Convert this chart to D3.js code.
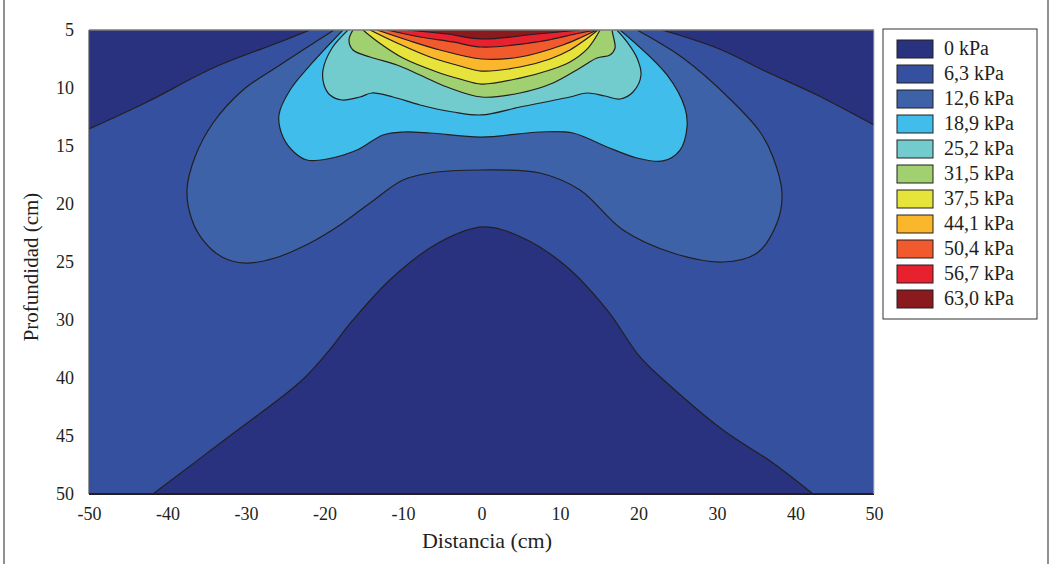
<!DOCTYPE html>
<html>
<head>
<meta charset="utf-8">
<script src="https://cdn.jsdelivr.net/npm/d3@7"></script>
<style>
	body { margin: 0; background: #fff; }
	svg { display: block; font-family: "Liberation Serif", "Times New Roman", serif; }
</style>
</head>
<body>
<svg id="chart" width="1051" height="564"></svg>
<script>
	const levelLabels = [ '0 kPa', '6,3 kPa', '12,6 kPa', '18,9 kPa', '25,2 kPa', '31,5 kPa',
		'37,5 kPa', '44,1 kPa', '50,4 kPa', '56,7 kPa', '63,0 kPa' ];
	const levelColors = [ '#29327f', '#34509e', '#3d62a8', '#41bdec', '#72cbcc', '#a0d06f',
		'#e6e43a', '#fbb72b', '#f05a2c', '#e8212f', '#8b1a1f' ];
	const xTicks = [ -50, -40, -30, -20, -10, 0, 10, 20, 30, 40, 50 ];
	const yTickLabels = [ '5', '10', '15', '20', '25', '30', '40', '45', '50' ];

	// contour lines as [distancia, profundidad]
	const line0Left = [ [ -50, 14.6 ], [ -42.6, 11.98 ], [ -34.2, 8.69 ], [ -25.67, 6.16 ], [ -21.85, 5 ] ];
	const line0Right = [ [ 22.99, 5 ], [ 30.0, 6.75 ], [ 36.37, 9.07 ], [ 42.74, 11.3 ], [ 50, 14.21 ] ];
	const line0Dome = [ [ -41.85, 50 ], [ -32.42, 44.57 ], [ -23.12, 39.14 ], [ -19.68, 36.32 ], [ -16.37, 33.12 ],
		[ -11.27, 28.95 ], [ -5.29, 25.56 ], [ 0.19, 24.1 ], [ 5.29, 25.17 ], [ 10.89, 27.98 ], [ 15.99, 32.15 ],
		[ 20.19, 36.71 ], [ 23.63, 39.23 ], [ 30.76, 43.79 ], [ 37.13, 46.99 ], [ 42.23, 50 ] ];
	const line126 = [ [ -18.79, 5 ], [ -25.67, 8.39 ], [ -30.38, 10.82 ], [ -34.2, 14.02 ], [ -36.5, 17.32 ],
		[ -37.52, 20.52 ], [ -36.88, 23.43 ], [ -35.48, 25.37 ], [ -33.06, 27.01 ], [ -30.13, 27.6 ],
		[ -26.31, 27.11 ], [ -21.85, 25.66 ], [ -18.03, 23.91 ], [ -14.2, 21.78 ], [ -10.0, 19.55 ],
		[ -6.56, 18.87 ], [ 0, 18.58 ], [ 7.45, 18.87 ], [ 12.55, 20.52 ], [ 18.03, 24.4 ], [ 24.39, 26.63 ],
		[ 30.76, 27.5 ], [ 35.1, 26.63 ], [ 37.64, 23.72 ], [ 38.28, 20.81 ], [ 37.13, 17.32 ], [ 35.48, 14.89 ],
		[ 32.04, 11.98 ], [ 25.67, 7.72 ], [ 19.81, 5 ] ];
	const line189 = [ [ -17.64, 5 ], [ -21.46, 8.1 ], [ -24.39, 10.82 ], [ -25.8, 13.24 ], [ -25.29, 15.38 ],
		[ -23.76, 16.93 ], [ -22.23, 17.61 ], [ -19.68, 17.51 ], [ -15.86, 16.64 ], [ -12.55, 15.18 ],
		[ -10.0, 14.89 ], [ -6.56, 14.99 ], [ 0, 15.38 ], [ 7.45, 14.89 ], [ 11.66, 14.99 ], [ 15.99, 16.35 ],
		[ 19.81, 17.41 ], [ 23.12, 17.7 ], [ 25.29, 16.64 ], [ 26.18, 14.41 ], [ 25.92, 12.56 ], [ 23.63, 9.36 ],
		[ 17.64, 5 ] ];
	const line252 = [ [ -17.01, 5 ], [ -19.04, 6.75 ], [ -20.19, 8.88 ], [ -20.06, 10.33 ], [ -19.3, 11.3 ],
		[ -17.77, 11.79 ], [ -15.48, 11.5 ], [ -13.95, 11.11 ], [ -11.27, 11.5 ], [ -7.83, 12.27 ], [ -3.63, 12.95 ],
		[ 0, 13.24 ], [ 4.9, 12.47 ], [ 11.27, 11.5 ], [ 13.44, 11.11 ], [ 15.73, 11.4 ], [ 17.64, 11.69 ],
		[ 19.3, 11.01 ], [ 20.32, 9.36 ], [ 19.81, 7.72 ], [ 18.54, 6.16 ], [ 17.26, 5 ] ];
	const line315 = [ [ -16.37, 5 ], [ -16.88, 5.97 ], [ -16.37, 6.94 ], [ -14.2, 7.62 ], [ -10.76, 8.39 ],
		[ -7.83, 9.36 ], [ -4.39, 10.53 ], [ 0, 11.5 ], [ 4.9, 11.11 ], [ 9.11, 10.14 ], [ 12.55, 8.69 ],
		[ 14.71, 7.72 ], [ 16.37, 7.42 ], [ 17.01, 6.75 ], [ 16.75, 5.48 ], [ 16.62, 5 ] ];
	const line375 = [ [ -15.1, 5 ], [ -13.18, 6.16 ], [ -10.0, 7.72 ], [ -5.67, 9.07 ], [ -2.74, 9.75 ], [ 0, 10.24 ],
		[ 4.9, 9.66 ], [ 8.73, 8.88 ], [ 11.27, 8.1 ], [ 13.57, 6.75 ], [ 15.1, 5 ] ];
	const line441 = [ [ -14.2, 5 ], [ -10.76, 6.26 ], [ -6.56, 7.62 ], [ -2.74, 8.49 ], [ 0, 8.98 ], [ 4.9, 8.59 ],
		[ 8.73, 7.81 ], [ 11.27, 6.94 ], [ 13.18, 5.97 ], [ 14.84, 5 ] ];
	const line504 = [ [ -13.31, 5 ], [ -9.49, 5.97 ], [ -5.29, 6.94 ], [ 0, 7.81 ], [ 4.9, 7.62 ], [ 10.38, 6.45 ],
		[ 12.8, 5.68 ], [ 14.71, 5 ] ];
	const line567 = [ [ -12.04, 5 ], [ -7.83, 5.68 ], [ -3.63, 6.16 ], [ 0, 6.65 ], [ 7.07, 6.16 ], [ 12.55, 5.29 ],
		[ 14.71, 5 ] ];
	const line630 = [ [ -9.49, 5 ], [ -4.39, 5.39 ], [ 0, 5.87 ], [ 7.07, 5.39 ], [ 12.55, 5 ] ];

	let svg = d3.select( '#chart' ),
		x = d3.scaleLinear().domain( [ -50, 50 ] ).range( [ 89, 874 ] ),
		y = d3.scaleLinear().domain( [ 5, 50 ] ).range( [ 30, 494 ] ),
		line = d3.line().x( d => x( d[ 0 ] ) ).y( d => y( d[ 1 ] ) ).curve( d3.curveCatmullRom.alpha( 0.5 ) );

	// outer frame
	svg.append( 'rect' )
		.attr( 'x', 4 ).attr( 'y', -3 ).attr( 'width', 1044 ).attr( 'height', 570 )
		.style( 'fill', 'none' ).style( 'stroke', '#6d6d6d' ).style( 'stroke-width', 1.5 );

	svg.append( 'clipPath' ).attr( 'id', 'plotClip' )
		.append( 'rect' )
		.attr( 'x', x( -50 ) ).attr( 'y', y( 5 ) )
		.attr( 'width', x( 50 ) - x( -50 ) ).attr( 'height', y( 50 ) - y( 5 ) );

	let plot = svg.append( 'g' ).attr( 'clip-path', 'url(#plotClip)' );

	plot.append( 'rect' )
		.attr( 'x', x( -50 ) ).attr( 'y', y( 5 ) )
		.attr( 'width', x( 50 ) - x( -50 ) ).attr( 'height', y( 50 ) - y( 5 ) )
		.style( 'fill', levelColors[ 1 ] );

	// filled zones, lowest first
	let zones = [
		{ pts: line0Left, level: 0, extra: 'L' + x( -50 ) + ',' + y( 5 ) },
		{ pts: line0Right, level: 0, extra: 'L' + x( 50 ) + ',' + y( 5 ) },
		{ pts: line0Dome, level: 0, extra: '' },
		{ pts: line126, level: 2, extra: '' },
		{ pts: line189, level: 3, extra: '' },
		{ pts: line252, level: 4, extra: '' },
		{ pts: line315, level: 5, extra: '' },
		{ pts: line375, level: 6, extra: '' },
		{ pts: line441, level: 7, extra: '' },
		{ pts: line504, level: 8, extra: '' },
		{ pts: line567, level: 9, extra: '' },
		{ pts: line630, level: 10, extra: '' }
	];

	plot.selectAll( 'path.zone' ).data( zones )
		.enter().append( 'path' )
		.attr( 'class', 'zone' )
		.attr( 'd', d => line( d.pts ) + d.extra + 'Z' )
		.style( 'fill', d => levelColors[ d.level ] )
		.style( 'stroke', 'none' );

	plot.selectAll( 'path.contour' ).data( zones )
		.enter().append( 'path' )
		.attr( 'class', 'contour' )
		.attr( 'd', d => line( d.pts ) )
		.style( 'fill', 'none' )
		.style( 'stroke', '#231f20' )
		.style( 'stroke-width', 1.2 );

	// plot border
	let x0 = x( -50 ), x1 = x( 50 ), y0 = y( 5 ), y1 = y( 50 );
	svg.append( 'line' ).attr( 'x1', x0 ).attr( 'x2', x1 ).attr( 'y1', y0 ).attr( 'y2', y0 )
		.style( 'stroke', '#7a7a7a' ).style( 'stroke-width', 1.5 );
	svg.append( 'line' ).attr( 'x1', x0 ).attr( 'x2', x0 ).attr( 'y1', y0 ).attr( 'y2', y1 )
		.style( 'stroke', '#555' ).style( 'stroke-width', 1.2 );
	svg.append( 'line' ).attr( 'x1', x0 ).attr( 'x2', x1 ).attr( 'y1', y1 ).attr( 'y2', y1 )
		.style( 'stroke', '#231f20' ).style( 'stroke-width', 2 );
	svg.append( 'line' ).attr( 'x1', x1 ).attr( 'x2', x1 ).attr( 'y1', y0 ).attr( 'y2', y1 )
		.style( 'stroke', '#c4c4c4' ).style( 'stroke-width', 1 );

	// axes
	let xAxis = svg.append( 'g' )
		.attr( 'transform', 'translate(0,' + y1 + ')' )
		.call( d3.axisBottom( x ).tickValues( xTicks ).tickFormat( d => String( d ) ).tickSize( 0 ).tickPadding( 13 ) );

	let yAxis = svg.append( 'g' )
		.attr( 'transform', 'translate(' + x0 + ',0)' )
		.call( d3.axisLeft( d3.scalePoint().domain( yTickLabels ).range( [ y0, y1 ] ) ).tickSize( 0 ).tickPadding( 15 ) );

	[ xAxis, yAxis ].forEach( a => {
		a.select( '.domain' ).remove();
		a.selectAll( 'text' )
			.style( 'font-family', '"Liberation Serif", serif' )
			.style( 'font-size', '18px' )
			.style( 'fill', '#231f20' );
	} );

	svg.append( 'text' )
		.attr( 'x', 487 ).attr( 'y', 548 )
		.attr( 'text-anchor', 'middle' )
		.style( 'font-size', '22px' ).style( 'fill', '#231f20' )
		.text( 'Distancia (cm)' );

	svg.append( 'text' )
		.attr( 'transform', 'translate(38,267) rotate(-90)' )
		.attr( 'text-anchor', 'middle' )
		.style( 'font-size', '21px' ).style( 'fill', '#231f20' )
		.text( 'Profundidad (cm)' );

	// legend
	let legend = svg.append( 'g' ).attr( 'transform', 'translate(883,29)' );
	legend.append( 'rect' )
		.attr( 'width', 154 ).attr( 'height', 290 )
		.style( 'fill', '#fff' ).style( 'stroke', '#333' ).style( 'stroke-width', 1 );

	let items = legend.selectAll( 'g.item' ).data( levelLabels )
		.enter().append( 'g' )
		.attr( 'class', 'item' )
		.attr( 'transform', ( d, i ) => 'translate(14,' + ( 11 + i * 25 ) + ')' );

	items.append( 'rect' )
		.attr( 'width', 36 ).attr( 'height', 18 )
		.style( 'fill', ( d, i ) => levelColors[ i ] )
		.style( 'stroke', '#231f20' ).style( 'stroke-width', 1 );

	items.append( 'text' )
		.attr( 'x', 47 ).attr( 'y', 15 )
		.style( 'font-size', '20px' ).style( 'fill', '#231f20' )
		.text( d => d );
</script>
</body>
</html>
